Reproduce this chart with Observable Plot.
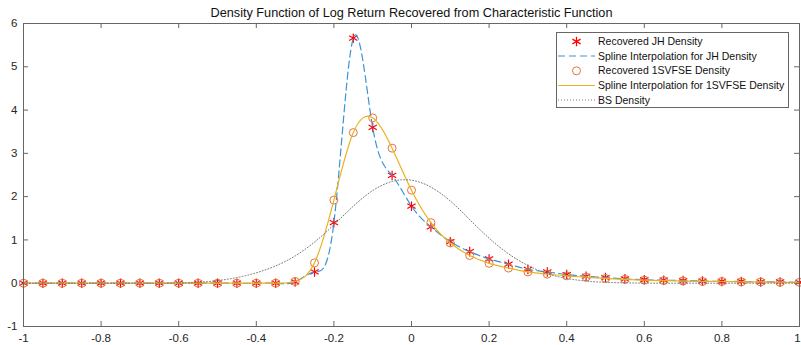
<!DOCTYPE html>
<html>
<head>
<meta charset="utf-8">
<script src="https://cdn.jsdelivr.net/npm/d3@7"></script>
<script src="https://cdn.jsdelivr.net/npm/@observablehq/plot@0.6"></script>
<style>
  html, body { margin: 0; padding: 0; background: white; }
  #wrap { position: relative; width: 801px; height: 345px; }
  #legend { position: absolute; left: 0; top: 0; }
</style>
</head>
<body>
<div id="wrap"></div>
<script>
const title = "Density Function of Log Return Recovered from Characteristic Function";

const xs = [-1, -0.95, -0.9, -0.85, -0.8, -0.75, -0.7, -0.65, -0.6, -0.55, -0.5, -0.45, -0.4, -0.35,
  -0.3, -0.25, -0.2, -0.15, -0.1, -0.05, 0, 0.05, 0.1, 0.15, 0.2, 0.25, 0.3, 0.35, 0.4, 0.45, 0.5,
  0.55, 0.6, 0.65, 0.7, 0.75, 0.8, 0.85, 0.9, 0.95, 1];

const jhDensity = [0, 0, 0, 0, 0, 0, 0, 0, 0, 0, 0, 0, 0, 0,
  0.03, 0.26, 1.40, 5.66, 3.60, 2.49, 1.78, 1.30, 0.96, 0.73, 0.56, 0.44, 0.32, 0.26, 0.20, 0.16, 0.13,
  0.10, 0.08, 0.07, 0.06, 0.05, 0.04, 0.04, 0.03, 0.03, 0.02];

const svfseDensity = [0, 0, 0, 0, 0, 0, 0, 0, 0, 0, 0, 0, 0, 0,
  0.04, 0.47, 1.92, 3.48, 3.82, 3.12, 2.15, 1.40, 0.93, 0.64, 0.46, 0.35, 0.26, 0.21, 0.17, 0.14, 0.11,
  0.09, 0.07, 0.06, 0.05, 0.04, 0.04, 0.03, 0.03, 0.02, 0.02];

const bsDensity = [0, 0, 0, 0, 0, 0, 0, 0, 0.005, 0.02, 0.06, 0.13, 0.24, 0.40,
  0.63, 0.95, 1.35, 1.78, 2.14, 2.35, 2.38, 2.22, 1.90, 1.47, 1.04, 0.68, 0.41, 0.22, 0.11, 0.05, 0.02,
  0.008, 0.003, 0, 0, 0, 0, 0, 0, 0, 0];

const xTicks = [-1, -0.8, -0.6, -0.4, -0.2, 0, 0.2, 0.4, 0.6, 0.8, 1];
const yTicks = [-1, 0, 1, 2, 3, 4, 5, 6];

const legendLabels = [
  "Recovered JH Density",
  "Spline Interpolation for JH Density",
  "Recovered 1SVFSE Density",
  "Spline Interpolation for 1SVFSE Density",
  "BS Density"
];

const rows = xs.map((x, i) => ({x, jh: jhDensity[i], sv: svfseDensity[i], bs: bsDensity[i]}));

const W = 801, H = 345, mL = 23, mR = 2, mT = 23, mB = 19;
const innerH = H - mT - mB, innerW = W - mL - mR;
const axisColor = "#666";
const fmt = d => String(+d.toFixed(1));
const font = "Arial, 'Liberation Sans', Helvetica, sans-serif";
const lastX = xTicks[xTicks.length - 1];

const chart = Plot.plot({
  width: W, height: H,
  marginLeft: mL, marginRight: mR, marginTop: mT, marginBottom: mB,
  x: {domain: [-1, 1], label: null},
  y: {domain: [-1, 6], label: null},
  style: {fontFamily: font, fontSize: "11.5px", color: "#262626", background: "white", overflow: "visible"},
  marks: [
    Plot.axisX({ticks: xTicks.slice(0, -1), tickSize: 0, tickPadding: 7, tickFormat: fmt, label: null}),
    Plot.axisX({ticks: [lastX], tickSize: 0, tickPadding: 7, tickFormat: fmt, label: null, dx: -2}),
    Plot.axisY({ticks: yTicks, tickSize: 0, tickPadding: 6, tickFormat: fmt, label: null}),
    Plot.ruleX(xTicks, {insetTop: innerH - 5, stroke: axisColor}),
    Plot.ruleX(xTicks, {insetBottom: innerH - 5, stroke: axisColor}),
    Plot.ruleY(yTicks, {insetRight: innerW - 5, stroke: axisColor}),
    Plot.ruleY(yTicks, {insetLeft: innerW - 5, stroke: axisColor}),
    Plot.dot(rows, {x: "x", y: "jh", symbol: "asterisk", r: 4.5, stroke: "#ff0000", strokeWidth: 1.2}),
    Plot.line(rows, {x: "x", y: "jh", curve: "natural", stroke: "#3b94d6", strokeWidth: 1.2, strokeDasharray: "7,4"}),
    Plot.dot(rows, {x: "x", y: "sv", symbol: "circle", r: 4, stroke: "#e0763f", fill: "none", strokeWidth: 1}),
    Plot.line(rows, {x: "x", y: "sv", curve: "natural", stroke: "#EDB120", strokeWidth: 1.2}),
    Plot.line(rows, {x: "x", y: "bs", curve: "natural", stroke: "#777", strokeWidth: 1, strokeDasharray: "1,2"}),
    Plot.frame({stroke: axisColor}),
    Plot.text([title], {frameAnchor: "top", lineAnchor: "middle", dy: -11, fontSize: 12.7, fill: "#111"})
  ]
});

const wrap = document.getElementById("wrap");
wrap.appendChild(chart);

// Legend overlay
const lg = d3.select(wrap).append("svg")
  .attr("id", "legend")
  .attr("width", W).attr("height", H)
  .style("font-family", font)
  .style("font-size", "10.5px");

lg.append("rect").attr("x", 556.5).attr("y", 32.5).attr("width", 232).attr("height", 75)
  .attr("fill", "white").attr("stroke", axisColor);

const rowY = [41.5, 56, 70.8, 85.5, 100];
const x0 = 558, x1 = 595, xm = 576.5;
const symAst = d3.symbol(d3.symbolAsterisk, Math.PI * 4.5 * 4.5)();
const symCirc = d3.symbol(d3.symbolCircle, Math.PI * 16)();

lg.append("path").attr("d", symAst).attr("transform", `translate(${xm},${rowY[0]})`).attr("stroke", "#ff0000").attr("stroke-width", 1.2).attr("fill", "none");
lg.append("line").attr("x1", x0).attr("x2", x1).attr("y1", rowY[1]).attr("y2", rowY[1]).attr("stroke", "#3b94d6").attr("stroke-width", 1.2).attr("stroke-dasharray", "7,4");
lg.append("path").attr("d", symCirc).attr("transform", `translate(${xm},${rowY[2]})`).attr("stroke", "#e0763f").attr("fill", "none");
lg.append("line").attr("x1", x0).attr("x2", x1).attr("y1", rowY[3]).attr("y2", rowY[3]).attr("stroke", "#EDB120").attr("stroke-width", 1.2);
lg.append("line").attr("x1", x0).attr("x2", x1).attr("y1", rowY[4]).attr("y2", rowY[4]).attr("stroke", "#777").attr("stroke-dasharray", "1,2");

legendLabels.forEach((t, i) => {
  lg.append("text").attr("x", 598).attr("y", rowY[i]).attr("dy", "0.35em").attr("fill", "#111").text(t);
});
</script>
</body>
</html>
